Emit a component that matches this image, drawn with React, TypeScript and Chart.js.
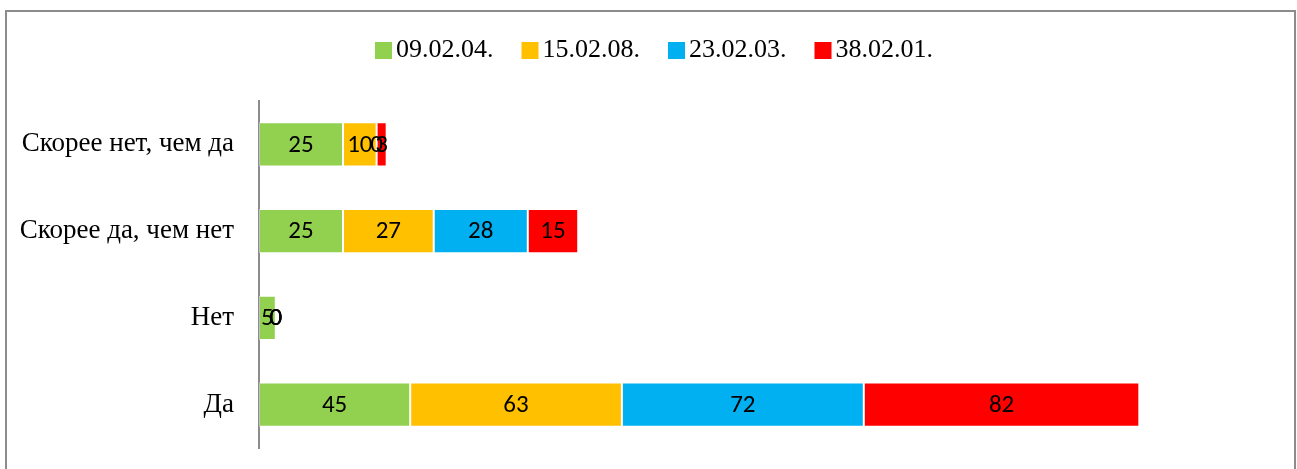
import React, { useEffect, useRef } from "react";
import { Chart, registerables } from "chart.js";

Chart.register(...registerables);

const categories = ["Скорее нет, чем да", "Скорее да, чем нет", "Нет", "Да"];
const seriesNames = ["09.02.04.", "15.02.08.", "23.02.03.", "38.02.01."];
const seriesColors = ["#92D050", "#FFC000", "#00B0F0", "#FF0000"];
const s1 = [25, 25, 5, 45];
const s2 = [10, 27, 0, 63];
const s3 = [0, 28, 0, 72];
const s4 = [3, 15, 0, 82];
const seriesValues = [s1, s2, s3, s4];
const xMax = 300;

const framePlugin = {
  id: "frame",
  beforeDraw(chart: any) {
    const ctx = chart.ctx;
    ctx.save();
    ctx.fillStyle = "#ffffff";
    ctx.fillRect(0, 0, chart.width, chart.height);
    ctx.strokeStyle = "#8c8c8c";
    ctx.lineWidth = 2;
    ctx.strokeRect(6, 11, 1289, 480);
    ctx.restore();
  },
};

const labelPlugin = {
  id: "valueLabels",
  afterDatasetsDraw(chart: any) {
    const ctx = chart.ctx;
    ctx.save();
    ctx.font = '25px Carlito, "Open Sans", sans-serif';
    ctx.fillStyle = "#000000";
    ctx.textAlign = "center";
    ctx.textBaseline = "middle";
    chart.data.datasets.forEach((ds: any, di: number) => {
      const meta = chart.getDatasetMeta(di);
      meta.data.forEach((el: any, i: number) => {
        const p = el.getCenterPoint();
        ctx.fillText(String(ds.data[i]), p.x, p.y + 1);
      });
    });
    ctx.restore();
  },
};

const legendPlugin = {
  id: "customLegend",
  afterDraw(chart: any) {
    const ctx = chart.ctx;
    ctx.save();
    ctx.font = '26px "Liberation Serif", "Times New Roman", serif';
    ctx.textBaseline = "alphabetic";
    ctx.textAlign = "left";
    let x = 375;
    chart.data.datasets.forEach((ds: any) => {
      ctx.fillStyle = ds.backgroundColor;
      ctx.fillRect(x, 42, 17, 17);
      x += 17 + 4;
      ctx.fillStyle = "#000000";
      ctx.fillText(ds.label, x, 57);
      x += ctx.measureText(ds.label).width + 28;
    });
    ctx.restore();
  },
};

export default function App() {
  const ref = useRef<HTMLCanvasElement | null>(null);
  useEffect(() => {
    if (!ref.current) return;
    const chart = new Chart(ref.current, {
      type: "bar",
      data: {
        labels: categories,
        datasets: seriesNames.map((name, i) => ({
          label: name,
          data: seriesValues[i],
          backgroundColor: seriesColors[i],
          borderColor: "rgba(255,255,255,0.45)",
          borderWidth: 1,
          borderSkipped: false,
          barPercentage: 1,
          categoryPercentage: 0.508,
        })),
      },
      options: {
        indexAxis: "y",
        animation: false,
        responsive: false,
        maintainAspectRatio: false,
        layout: { padding: { left: 7, right: 30, top: 101, bottom: 21 } },
        plugins: {
          legend: { display: false },
          tooltip: { enabled: false },
        },
        scales: {
          x: {
            stacked: true,
            min: 0,
            max: xMax,
            display: false,
          },
          y: {
            stacked: true,
            grid: { display: false, drawTicks: false },
            border: { display: true, color: "#8c8c8c", width: 2 },
            ticks: {
              color: "#000000",
              padding: 25,
              font: { family: '"Liberation Serif", "Times New Roman", serif', size: 27 },
            },
            afterFit(scale: any) {
              scale.width = 252;
              scale.paddingTop = 0;
              scale.paddingBottom = 0;
            },
          },
        },
      },
      plugins: [framePlugin, labelPlugin, legendPlugin],
    });
    return () => chart.destroy();
  }, []);
  return (
    <div style={{ position: "fixed", left: 0, top: 0, width: 1297, height: 469 }}>
      <canvas ref={ref} width={1297} height={469} style={{ width: 1297, height: 469, display: "block" }} />
    </div>
  );
}
